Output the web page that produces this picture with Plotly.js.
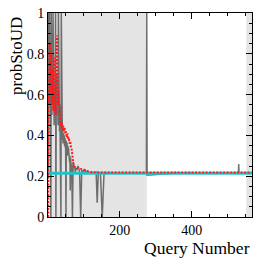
<!DOCTYPE html>
<html>
<head>
<meta charset="utf-8">
<script src="https://cdn.plot.ly/plotly-3.0.1.min.js"></script>
<style>html,body{margin:0;padding:0;background:#fff;}#chart{width:266px;height:260px;}</style>
</head>
<body>
<div id="chart"></div>
<script>
// Gray trace (per-query probability)
var grayX = [0,1,2,3,4,5,6,7,8,9,10,11,12,13,14,15,16,17,18,19,20,21,22,23,24,25,26,27,28,29,30,31,32,33,34,35,36,37,38,39,40,41,42,43,44,45,46,47,48,49,50,51,52,53,54,55,56,57,58,59,60,61,62,63,64,66,68,70,72,74,76,78,80,84,88,91,94,98,102,106,110,116,122,128,134,137,140,146,151,156,165,200,240,274,275,276,350,450,530,531,532,567];
var grayY = [1,0.2,1,0.55,1,0.6,0.85,0.45,0,1,0.7,0.5,0.9,0.6,1,0.55,0.75,0.45,0.65,0.6,0.5,1,0,0.6,0.7,0.5,0.55,0.6,0.45,1,0.5,0.6,0.42,0.55,0.38,0.45,0,1,0.4,0.44,0.38,0.42,0.36,0.41,0.37,0.4,0.35,0.39,0.34,0.38,0,0.37,0.33,0.36,0.3,0.35,0.31,0.34,0.28,0.32,0.27,0.3,0.13,0.29,0.26,0.25,0,0.27,0.24,0.25,0.22,0.24,0.23,0.25,0.22,0,0.23,0.22,0.235,0.22,0.225,0.215,0.22,0.215,0.22,0.07,0.215,0.215,0,0.215,0.215,0.215,0.215,0.215,1,0.205,0.215,0.215,0.215,0.26,0.215,0.215];

// Red trace (running estimate)
var redX = [0,1,2,3,4,5,6,7,8,9,10,11,12,13,14,15,16,17,18,19,20,21,22,23,24,25,26,27,28,29,30,31,32,33,34,36,38,40,42,44,46,48,50,52,54,56,58,60,62,64,66,68,70,72,76,80,85,91,100,110,120,150,200,300,400,500,567];
var redY = [0,0.5,0.62,0.55,0.7,0.85,0.65,0.6,0.75,0.8,0.7,0.55,0.68,0.72,0.6,0.52,0.65,0.78,0.7,0.62,0.55,0.5,0.6,0.7,0.85,0.89,0.72,0.6,0.55,0.62,0.58,0.5,0.47,0.5,0.46,0.45,0.47,0.43,0.45,0.42,0.44,0.41,0.42,0.39,0.41,0.38,0.39,0.36,0.37,0.34,0.33,0.3,0.27,0.25,0.245,0.24,0.24,0.235,0.23,0.225,0.22,0.218,0.218,0.218,0.218,0.218,0.218];

// Cyan reference level
var refX = [0, 567];
var refY = [0.215, 0.215];

// Shaded query ranges
var shadedRanges = [[0, 275], [552, 568]];

var xTickVals = [200, 400];
var xTickText = ['200', '400'];
var yTickVals = [0, 0.2, 0.4, 0.6, 0.8, 1];
var yTickText = ['0', '0.2', '0.4', '0.6', '0.8', '1'];

var serif = 'Liberation Serif';

var traces = [
  {x: grayX, y: grayY, mode: 'lines', line: {color: 'rgba(70,70,70,0.75)', width: 1.5}, hoverinfo: 'skip'},
  {x: refX, y: refY, mode: 'lines', line: {color: '#20c4c8', width: 3}, hoverinfo: 'skip'},
  {x: redX, y: redY, mode: 'lines', line: {color: '#ff1a1a', width: 2, dash: '2px,1.5px'}, hoverinfo: 'skip'}
];

var shapes = shadedRanges.map(function(r){
  return {type: 'rect', xref: 'x', yref: 'paper', x0: r[0], x1: r[1], y0: 0, y1: 1,
          fillcolor: '#e4e4e4', line: {width: 0}, layer: 'below'};
});

var layout = {
  width: 266, height: 260,
  margin: {l: 48, r: 14, t: 13, b: 43, pad: 0},
  paper_bgcolor: '#fff', plot_bgcolor: '#fff',
  showlegend: false,
  font: {family: serif, size: 14, color: '#000'},
  xaxis: {
    range: [0, 568], tickmode: 'array', tickvals: xTickVals, ticktext: xTickText,
    ticks: 'inside', ticklen: 6, tickcolor: '#000', tickwidth: 1,
    showline: true, linecolor: '#000', linewidth: 1, mirror: 'ticks',
    showgrid: false, zeroline: false,
    minor: {dtick: 50, tick0: 0, ticks: 'inside', ticklen: 3, tickcolor: '#000', showgrid: false},
    tickfont: {family: serif, size: 14}
  },
  yaxis: {
    range: [0, 1], tickmode: 'array', tickvals: yTickVals, ticktext: yTickText,
    ticks: 'inside', ticklen: 6, tickcolor: '#000', tickwidth: 1,
    showline: true, linecolor: '#000', linewidth: 1, mirror: 'ticks',
    showgrid: false, zeroline: false,
    minor: {dtick: 0.05, tick0: 0, ticks: 'inside', ticklen: 3, tickcolor: '#000', showgrid: false},
    tickfont: {family: serif, size: 14}
  },
  shapes: shapes,
  annotations: [
    {text: 'Query Number', xref: 'paper', yref: 'paper', x: 1, y: -0.15, xanchor: 'right', yanchor: 'middle',
     showarrow: false, font: {family: serif, size: 17.5, color: '#000'}},
    {text: 'probStoUD', xref: 'paper', yref: 'paper', x: -0.157, y: 0.99, xanchor: 'center', yanchor: 'top',
     textangle: -90, showarrow: false, font: {family: serif, size: 17, color: '#000'}}
  ]
};

Plotly.newPlot('chart', traces, layout, {staticPlot: true, displayModeBar: false});
</script>
</body>
</html>
